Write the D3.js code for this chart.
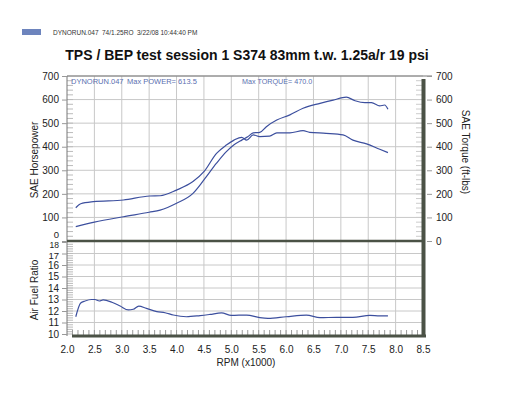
<!DOCTYPE html>
<html>
<head>
<meta charset="utf-8">
<script src="https://cdn.jsdelivr.net/npm/d3@7"></script>
<style>
  body { margin: 0; background: #fff; }
  text { font-family: Arial, "Liberation Sans", Helvetica, sans-serif; }
</style>
</head>
<body>
<svg id="chart" width="512" height="396"></svg>
<script>
// dyno run data (rpm x1000)
var hpRpm   = [2.16, 2.5, 3.03, 3.5, 3.7, 4.0, 4.3, 4.5, 4.73, 4.91, 5.05, 5.19, 5.3, 5.4, 5.52, 5.64, 5.83, 6.07, 6.31, 6.62, 6.86, 7.1, 7.26, 7.44, 7.56, 7.71, 7.8, 7.86];
var hpVals  = [61, 80, 103, 122, 131, 160, 202, 259, 330, 379, 408, 428, 442, 459, 461, 485, 513, 535, 563, 584, 598, 610, 595, 587, 587, 573, 577, 559];

var tqRpm   = [2.16, 2.25, 2.48, 3.03, 3.51, 3.7, 4.0, 4.3, 4.5, 4.73, 4.91, 5.05, 5.19, 5.28, 5.4, 5.52, 5.7, 5.83, 6.07, 6.31, 6.43, 6.73, 7.04, 7.22, 7.47, 7.71, 7.86];
var tqVals  = [141, 158, 167, 174, 191, 192, 216, 252, 294, 372, 407, 428, 440, 428, 450, 443, 445, 459, 459, 468, 461, 457, 450, 428, 412, 389, 375];

var afrRpm  = [2.16, 2.25, 2.33, 2.45, 2.51, 2.59, 2.66, 2.82, 2.97, 3.12, 3.21, 3.31, 3.45, 3.64, 3.79, 3.94, 4.18, 4.43, 4.61, 4.82, 5.0, 5.28, 5.52, 5.67, 6.0, 6.37, 6.62, 6.92, 7.22, 7.53, 7.71, 7.86];
var afrVals = [11.5, 12.7, 12.87, 13.0, 13.0, 12.87, 12.96, 12.76, 12.43, 12.09, 12.15, 12.43, 12.23, 11.94, 11.85, 11.65, 11.5, 11.6, 11.7, 11.83, 11.62, 11.65, 11.42, 11.36, 11.5, 11.65, 11.42, 11.45, 11.45, 11.62, 11.57, 11.57];

var xTicks   = [2.0, 2.5, 3.0, 3.5, 4.0, 4.5, 5.0, 5.5, 6.0, 6.5, 7.0, 7.5, 8.0, 8.5];
var pwrTicks = [0, 100, 200, 300, 400, 500, 600, 700];
var afrTicks = [10, 11, 12, 13, 14, 15, 16, 17, 18];

var headerParts = ["DYNORUN.047", "74/1.25RO", "3/22/08 10:44:40 PM"];

var svg = d3.select("#chart");

var x    = d3.scaleLinear().domain([2, 8.5]).range([67, 423]);
var yPwr = d3.scaleLinear().domain([0, 700]).range([241, 76]);
var yAfr = d3.scaleLinear().domain([10, 18]).range([334, 242]);

var lineBlue = "#3c4f9e";
var gridCol = "#c8c8c8";
var barCol = "#4b5246";

// header
svg.append("rect").attr("x", 22).attr("y", 29).attr("width", 19).attr("height", 6).attr("fill", "#6d84bd");
svg.selectAll(".hdr").data(headerParts).enter().append("text")
  .attr("class", "hdr")
  .attr("x", function (d, i) { return [53, 102, 137][i]; })
  .attr("y", 34.5)
  .style("font-size", "6.5px").attr("fill", "#333")
  .text(function (d) { return d; });

// title
svg.append("text").attr("x", 247).attr("y", 60).attr("text-anchor", "middle")
  .style("font-size", "14px").style("font-weight", "bold").attr("fill", "#111")
  .text("TPS / BEP test session 1 S374 83mm t.w. 1.25a/r 19 psi");

// grid
var g = svg.append("g");
xTicks.slice(1, -1).forEach(function (t) {
  g.append("line").attr("x1", x(t)).attr("x2", x(t)).attr("y1", 76).attr("y2", 336)
    .attr("stroke", gridCol).attr("stroke-width", 1);
});
pwrTicks.slice(1).forEach(function (t) {
  g.append("line").attr("x1", 67).attr("x2", 423).attr("y1", yPwr(t)).attr("y2", yPwr(t))
    .attr("stroke", gridCol).attr("stroke-width", 1);
});
afrTicks.slice(1, -1).forEach(function (t) {
  g.append("line").attr("x1", 67).attr("x2", 423).attr("y1", yAfr(t)).attr("y2", yAfr(t))
    .attr("stroke", gridCol).attr("stroke-width", 1);
});

// minor ticks inside the left axis and near the right bar
d3.range(0, 700, 20).forEach(function (t) {
  g.append("line").attr("x1", 67).attr("x2", 73).attr("y1", yPwr(t)).attr("y2", yPwr(t))
    .attr("stroke", "#bbb");
  g.append("line").attr("x1", 416).attr("x2", 422).attr("y1", yPwr(t)).attr("y2", yPwr(t))
    .attr("stroke", "#ccc");
});
d3.range(10, 18, 0.2).forEach(function (t) {
  g.append("line").attr("x1", 67).attr("x2", 73).attr("y1", yAfr(t)).attr("y2", yAfr(t))
    .attr("stroke", "#bbb");
});
d3.range(2.1, 8.45, 0.1).forEach(function (t) {
  g.append("line").attr("x1", x(t)).attr("x2", x(t)).attr("y1", 330).attr("y2", 335)
    .attr("stroke", "#999");
});

// frame
svg.append("line").attr("x1", 67).attr("x2", 432).attr("y1", 76).attr("y2", 76).attr("stroke", "#777");
svg.append("line").attr("x1", 67).attr("x2", 67).attr("y1", 76).attr("y2", 336).attr("stroke", "#777");
svg.append("line").attr("x1", 67).attr("x2", 423).attr("y1", 241).attr("y2", 241)
  .attr("stroke", barCol).attr("stroke-width", 2.5);
svg.append("line").attr("x1", 72).attr("x2", 426).attr("y1", 336).attr("y2", 336)
  .attr("stroke", barCol).attr("stroke-width", 3);
svg.append("line").attr("x1", 423.5).attr("x2", 423.5).attr("y1", 79).attr("y2", 337)
  .attr("stroke", barCol).attr("stroke-width", 4);

// axes
var axL = svg.append("g").attr("transform", "translate(67,0)")
  .call(d3.axisLeft(yPwr).tickValues(pwrTicks).tickSize(5).tickPadding(3));
var axR = svg.append("g").attr("transform", "translate(427,0)")
  .call(d3.axisRight(yPwr).tickValues(pwrTicks).tickSize(5).tickPadding(4));
var axA = svg.append("g").attr("transform", "translate(67,0)")
  .call(d3.axisLeft(yAfr).tickValues(afrTicks).tickSize(5).tickPadding(3));
var axX = svg.append("g").attr("transform", "translate(0,340)")
  .call(d3.axisBottom(x).tickValues(xTicks).tickSize(0).tickPadding(6).tickFormat(d3.format(".1f")));
[axL, axR, axA, axX].forEach(function (a) {
  a.select(".domain").remove();
  a.selectAll("line").attr("stroke", "#999");
  a.selectAll("text").style("font-size", "10px").attr("fill", "#222").attr("font-family", null);
});
axX.selectAll("line").remove();
// crowded labels where the two panels meet
axL.selectAll(".tick").filter(function (d) { return d === 0; }).select("text")
  .attr("dy", "-0.4em").style("font-size", "9.5px");
axA.selectAll(".tick").filter(function (d) { return d === 18; }).select("text")
  .attr("dy", "0.7em").style("font-size", "8.5px");
axA.selectAll(".tick").filter(function (d) { return d === 17; }).select("text")
  .attr("dy", "0.55em").style("font-size", "9.5px");

// axis titles
svg.append("text").attr("transform", "translate(38,160) rotate(-90)").attr("text-anchor", "middle")
  .style("font-size", "10px").attr("fill", "#222").text("SAE Horsepower");
svg.append("text").attr("transform", "translate(462,152) rotate(90)").attr("text-anchor", "middle")
  .style("font-size", "10px").attr("fill", "#222").text("SAE Torque (ft-lbs)");
svg.append("text").attr("transform", "translate(38,290) rotate(-90)").attr("text-anchor", "middle")
  .style("font-size", "10px").attr("fill", "#222").text("Air Fuel Ratio");
svg.append("text").attr("x", 246).attr("y", 366).attr("text-anchor", "middle")
  .style("font-size", "10px").attr("fill", "#222").text("RPM (x1000)");

// in-plot labels
svg.append("text").attr("x", 71).attr("y", 84).style("font-size", "7.5px").attr("fill", "#5a6fb0")
  .text("DYNORUN.047");
svg.append("text").attr("x", 127).attr("y", 84).style("font-size", "7.5px").attr("fill", "#5a6fb0")
  .text("Max POWER= 613.5");
svg.append("text").attr("x", 242).attr("y", 84).style("font-size", "7.2px").attr("fill", "#5a6fb0")
  .text("Max TORQUE= 470.0");

// curves
var linePwr = d3.line().curve(d3.curveMonotoneX)
  .x(function (d) { return x(d[0]); }).y(function (d) { return yPwr(d[1]); });
var lineAfr = d3.line().curve(d3.curveMonotoneX)
  .x(function (d) { return x(d[0]); }).y(function (d) { return yAfr(d[1]); });

svg.append("path").datum(d3.zip(hpRpm, hpVals)).attr("d", linePwr)
  .attr("fill", "none").attr("stroke", lineBlue).attr("stroke-width", 1.2);
svg.append("path").datum(d3.zip(tqRpm, tqVals)).attr("d", linePwr)
  .attr("fill", "none").attr("stroke", lineBlue).attr("stroke-width", 1.2);
svg.append("path").datum(d3.zip(afrRpm, afrVals)).attr("d", lineAfr)
  .attr("fill", "none").attr("stroke", lineBlue).attr("stroke-width", 1.2);
</script>
</body>
</html>
